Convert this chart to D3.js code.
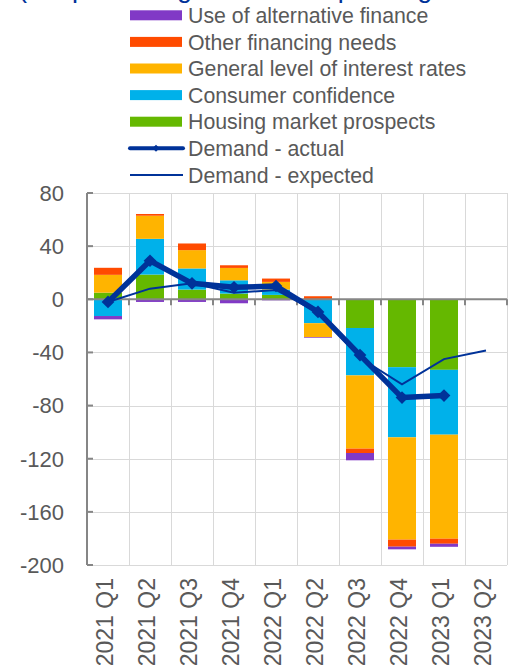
<!DOCTYPE html>
<html>
<head>
<meta charset="utf-8">
<script src="https://cdn.jsdelivr.net/npm/d3@7"></script>
<style>
  html, body { margin: 0; padding: 0; background: #ffffff; }
  svg { display: block; }
  text { font-family: "Liberation Sans", Arial, sans-serif; }
</style>
</head>
<body>
<svg id="chart" width="508" height="669"></svg>
<script>
// Quarters on the x axis
const categories = ["2021 Q1", "2021 Q2", "2021 Q3", "2021 Q4", "2022 Q1",
                    "2022 Q2", "2022 Q3", "2022 Q4", "2023 Q1", "2023 Q2"];

// Contributions of individual factors (net percentages)
const housingProspects   = [5.0, 18.6, 7.3, 4.3, 3.3, 0, -21.6, -51.1, -53.1, null];
const consumerConfidence = [-12.6, 26.9, 15.9, 10.0, 4.0, -18.0, -35.7, -52.8, -48.8, null];
const interestRates      = [13.4, 17.4, 13.8, 9.3, 5.8, -10.5, -55.1, -77.0, -78.3, null];
const otherFinancing     = [5.3, 1.3, 5.0, 2.0, 2.5, 2.3, -3.3, -5.3, -3.8, null];
const alternativeFinance = [-2.5, -2.0, -2.0, -3.0, -0.8, -0.5, -5.5, -2.0, -2.3, null];

// Overall demand
const demandActual   = [-2, 29, 12, 9, 10, -9.5, -42, -74, -72.5, null];
const demandExpected = [-2, 8, 12, 5, 7, -10, -44, -64, -45, -38.5];

// Axis ticks
const yTicks = [80, 40, 0, -40, -80, -120, -160, -200];

const COLORS = {
  alt: "#8139C6",
  other: "#FF4B00",
  rates: "#FFB400",
  conf: "#00B1EA",
  housing: "#65B800",
  line: "#003299"
};

const seriesDefs = [
  { key: "housing", name: "Housing market prospects", values: housingProspects, color: COLORS.housing },
  { key: "conf", name: "Consumer confidence", values: consumerConfidence, color: COLORS.conf },
  { key: "rates", name: "General level of interest rates", values: interestRates, color: COLORS.rates },
  { key: "other", name: "Other financing needs", values: otherFinancing, color: COLORS.other },
  { key: "alt", name: "Use of alternative finance", values: alternativeFinance, color: COLORS.alt }
];

const rows = categories.map((c, i) => {
  const r = { cat: c };
  seriesDefs.forEach(s => { r[s.key] = s.values[i] == null ? 0 : s.values[i]; });
  return r;
});

const svg = d3.select("#chart");
const plot = { left: 87, right: 507, top: 193, bottom: 565 };

const x = d3.scaleBand()
  .domain(categories)
  .range([plot.left, plot.right])
  .paddingInner(1 / 3)
  .paddingOuter(1 / 6);

const y = d3.scaleLinear()
  .domain([-200, 80])
  .range([plot.bottom, plot.top]);

const step = x.step();
const boundaries = d3.range(categories.length + 1).map(k => plot.left + k * step);

// Title (runs above the top edge of the page)
svg.append("text")
  .attr("x", 18).attr("y", -3)
  .attr("font-size", 27)
  .attr("fill", COLORS.line)
  .text("(net percentages of banks pointing to a contribution to increasing demand)");

// Gridlines
const grid = svg.append("g").attr("stroke", "#d9d9d9").attr("stroke-width", 1);
grid.selectAll("line.h").data(yTicks).join("line")
  .attr("x1", plot.left).attr("x2", plot.right)
  .attr("y1", d => Math.round(y(d)) + 0.5).attr("y2", d => Math.round(y(d)) + 0.5);
grid.selectAll("line.v").data(boundaries.slice(1)).join("line")
  .attr("x1", d => Math.round(d) + 0.5).attr("x2", d => Math.round(d) + 0.5)
  .attr("y1", plot.top).attr("y2", plot.bottom);

// Stacked bars
const stack = d3.stack()
  .keys(seriesDefs.map(s => s.key))
  .offset(d3.stackOffsetDiverging);
const stacked = stack(rows);

svg.append("g").selectAll("g").data(stacked).join("g")
  .attr("fill", (d, i) => seriesDefs[i].color)
  .selectAll("rect").data(d => d).join("rect")
  .attr("x", d => x(d.data.cat))
  .attr("width", x.bandwidth())
  .attr("y", d => y(Math.max(d[0], d[1])))
  .attr("height", d => Math.abs(y(d[0]) - y(d[1])));

// Axes
const axisColor = "#868686";
const ax = svg.append("g").attr("stroke", axisColor);
ax.append("line")
  .attr("x1", plot.left).attr("x2", plot.left)
  .attr("y1", plot.top).attr("y2", plot.bottom)
  .attr("stroke-width", 2);
ax.selectAll("line.yt").data(yTicks).join("line")
  .attr("x1", plot.left).attr("x2", plot.left + 6)
  .attr("y1", d => y(d)).attr("y2", d => y(d))
  .attr("stroke-width", 2);
ax.append("line")
  .attr("x1", plot.left).attr("x2", plot.right)
  .attr("y1", y(0)).attr("y2", y(0))
  .attr("stroke-width", 2);
ax.selectAll("line.xt").data(boundaries.slice(1)).join("line")
  .attr("x1", d => d).attr("x2", d => d)
  .attr("y1", y(0)).attr("y2", y(0) + 6)
  .attr("stroke-width", 2);

// Y tick labels
svg.append("g").selectAll("text").data(yTicks).join("text")
  .attr("x", 64)
  .attr("y", d => y(d))
  .attr("dy", "0.36em")
  .attr("text-anchor", "end")
  .attr("font-size", 22)
  .attr("fill", "#595959")
  .text(d => d);

// X labels (rotated)
svg.append("g").selectAll("text").data(categories).join("text")
  .attr("transform", d => `translate(${x(d) + x.bandwidth() / 2 - 3},578) rotate(-90)`)
  .attr("text-anchor", "end")
  .attr("dy", "0.36em")
  .attr("font-size", 23)
  .attr("fill", "#595959")
  .text(d => d);

// Demand lines
const cx = d => x(d.cat) + x.bandwidth() / 2;
const expectedPts = categories.map((c, i) => ({ cat: c, v: demandExpected[i] }));
const actualPts = categories.map((c, i) => ({ cat: c, v: demandActual[i] }));
const lineGen = d3.line()
  .defined(d => d.v != null)
  .x(cx)
  .y(d => y(d.v));

svg.append("path")
  .datum(expectedPts)
  .attr("fill", "none")
  .attr("stroke", COLORS.line)
  .attr("stroke-width", 2)
  .attr("d", lineGen);

svg.append("path")
  .datum(actualPts)
  .attr("fill", "none")
  .attr("stroke", COLORS.line)
  .attr("stroke-width", 5.5)
  .attr("stroke-linejoin", "round")
  .attr("d", lineGen);

const diamond = d3.symbol().type(d3.symbolSquare).size(81);
svg.append("g").selectAll("path").data(actualPts.filter(d => d.v != null)).join("path")
  .attr("transform", d => `translate(${cx(d)},${y(d.v)}) rotate(45)`)
  .attr("fill", COLORS.line)
  .attr("d", diamond);

// Legend
const legendItems = [
  { name: "Use of alternative finance", type: "bar", color: COLORS.alt },
  { name: "Other financing needs", type: "bar", color: COLORS.other },
  { name: "General level of interest rates", type: "bar", color: COLORS.rates },
  { name: "Consumer confidence", type: "bar", color: COLORS.conf },
  { name: "Housing market prospects", type: "bar", color: COLORS.housing },
  { name: "Demand - actual", type: "thick", color: COLORS.line },
  { name: "Demand - expected", type: "thin", color: COLORS.line }
];
const lg = svg.append("g").selectAll("g").data(legendItems).join("g")
  .attr("transform", (d, i) => `translate(0,${15.3 + i * 26.6})`);
lg.filter(d => d.type === "bar").append("rect")
  .attr("x", 130).attr("y", -5).attr("width", 52).attr("height", 10)
  .attr("fill", d => d.color);
lg.filter(d => d.type !== "bar").append("line")
  .attr("x1", 130).attr("x2", 183).attr("y1", 0).attr("y2", 0)
  .attr("stroke", d => d.color)
  .attr("stroke-linecap", d => d.type === "thick" ? "round" : "butt")
  .attr("stroke-width", d => d.type === "thick" ? 4 : 2);
lg.filter(d => d.type === "thick").append("path")
  .attr("transform", "translate(156,0) rotate(45)")
  .attr("fill", COLORS.line)
  .attr("d", d3.symbol().type(d3.symbolSquare).size(25));
lg.append("text")
  .attr("x", 188).attr("y", 0).attr("dy", "0.36em")
  .attr("font-size", 21.3)
  .attr("fill", "#595959")
  .text(d => d.name);
</script>
</body>
</html>
